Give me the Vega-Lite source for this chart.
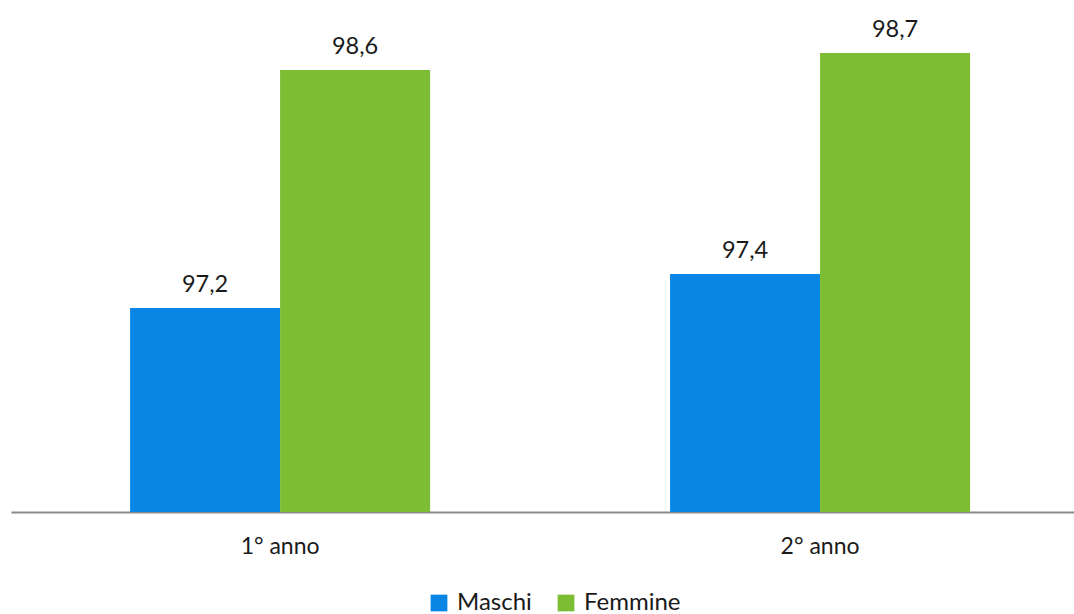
{
  "$schema": "https://vega.github.io/schema/vega-lite/v6.json",
  "width": 1063,
  "height": 510,
  "autosize": {"type": "none"},
  "padding": {"left": 11, "top": 2, "right": 0, "bottom": 102},
  "background": "white",
  "config": {
    "view": {"stroke": null},
    "font": "Lato",
    "locale": {"number": {"decimal": ",", "thousands": ".", "grouping": [3], "currency": ["", " €"]}}
  },
  "data": {
    "values": [
      {"anno": "1° anno", "sesso": "Maschi", "valore": 97.2},
      {"anno": "1° anno", "sesso": "Femmine", "valore": 98.6},
      {"anno": "2° anno", "sesso": "Maschi", "valore": 97.4},
      {"anno": "2° anno", "sesso": "Femmine", "valore": 98.7}
    ]
  },
  "encoding": {
    "x": {
      "field": "anno", "type": "nominal", "sort": null,
      "scale": {"paddingInner": 0.4444, "paddingOuter": 0.2065, "align": 0.534},
      "axis": {
        "title": null, "labelAngle": 0, "ticks": false, "domainColor": "#898989", "domainWidth": 2,
        "labelFont": "Lato", "labelFontSize": 23, "labelColor": "#1a1a1a", "labelPadding": 23, "grid": false
      }
    },
    "xOffset": {"field": "sesso", "type": "nominal", "sort": ["Maschi", "Femmine"], "scale": {"paddingInner": 0, "paddingOuter": 0}},
    "y": {"field": "valore", "type": "quantitative", "scale": {"domain": [96, 99], "zero": false, "nice": false}, "axis": null}
  },
  "layer": [
    {
      "mark": {"type": "bar"},
      "encoding": {
        "y2": {"datum": 96},
        "color": {
          "field": "sesso", "type": "nominal", "sort": ["Maschi", "Femmine"],
          "scale": {"domain": ["Maschi", "Femmine"], "range": ["#0885E5", "#7CBD33"]},
          "legend": {
            "title": null, "orient": "none", "direction": "horizontal", "columns": 2,
            "legendX": 416, "legendY": 589, "padding": 0,
            "symbolType": "square", "symbolSize": 280, "symbolStrokeWidth": 0, "symbolOpacity": 1,
            "labelFont": "Lato", "labelFontSize": 24, "labelColor": "#1a1a1a", "labelOffset": 6, "columnPadding": 22
          }
        }
      }
    },
    {
      "mark": {"type": "text", "baseline": "middle", "dy": -23, "fontSize": 23.5, "font": "Lato", "color": "#1a1a1a"},
      "encoding": {
        "text": {"field": "valore", "type": "quantitative", "format": ".1f"}
      }
    }
  ]
}
